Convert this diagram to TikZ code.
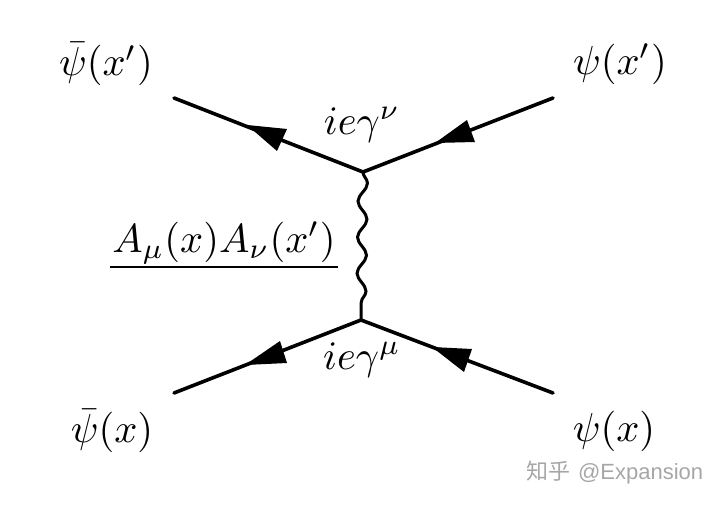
\documentclass[tikz,border=0pt]{standalone}
\usepackage{amsmath}
\usepackage{amssymb}
\usepackage{fontspec}
\newfontfamily\cjkfont{Noto Sans CJK SC}
\newfontfamily\marksans{Liberation Sans}
\usetikzlibrary{decorations.pathmorphing}
\tikzset{
    fermion/.style={line width=3.6pt,line cap=round},
    boson/.style={line width=3pt,decorate,decoration={snake,segment length=36pt,amplitude=4.6pt}},
    tip/.style={fill=black,draw=none},
    lab/.style={inner sep=0pt,scale=4.05},
}
\begin{document}
\begin{tikzpicture}[x=1pt,y=-1pt]
            \useasboundingbox (0,0) rectangle (720,505);
            \coordinate (topleft) at (174,98);
            \coordinate (topright) at (553,98);
            \coordinate (botleft) at (174,393);
            \coordinate (botright) at (553,393);
            \coordinate (topvertex) at (363,172);
            \coordinate (botvertex) at (361,320);

            \draw[fermion] (topleft) -- (topvertex);
            \draw[fermion] (topright) -- (topvertex);
            \draw[fermion] (botleft) -- (botvertex);
            \draw[fermion] (botright) -- (botvertex);
            \draw[boson] (topvertex) -- (botvertex);

            \fill[tip] (247,125) -- (287,129) -- (277,151) -- cycle;
            \fill[tip] (435,143) -- (467,120) -- (475,142) -- cycle;
            \fill[tip] (245,365) -- (280,341) -- (287,363) -- cycle;
            \fill[tip] (432,347) -- (472,349) -- (464,372) -- cycle;

            \node[lab] (psibarp) at (106,64) {$\bar\psi(x')$};
            \node[lab] (psip) at (620,64) {$\psi(x')$};
            \node[lab] (psibar) at (112,431) {$\bar\psi(x)$};
            \node[lab] (psi) at (614,431) {$\psi(x)$};
            \node[lab] (vertexnu) at (362,125) {$ie\gamma^\nu$};
            \node[lab] (vertexmu) at (362,360) {$ie\gamma^\mu$};
            \node[lab] (prop) at (224,243) {$A_\mu(x)A_\nu(x')$};
            \draw[line width=2pt] (110,267) -- (338,267);

            \node[text=black!35,scale=2.2,inner sep=0pt] (mark) at (615,473) {{\cjkfont 知乎} {\marksans @Expansion}};
        \end{tikzpicture}
\end{document}
